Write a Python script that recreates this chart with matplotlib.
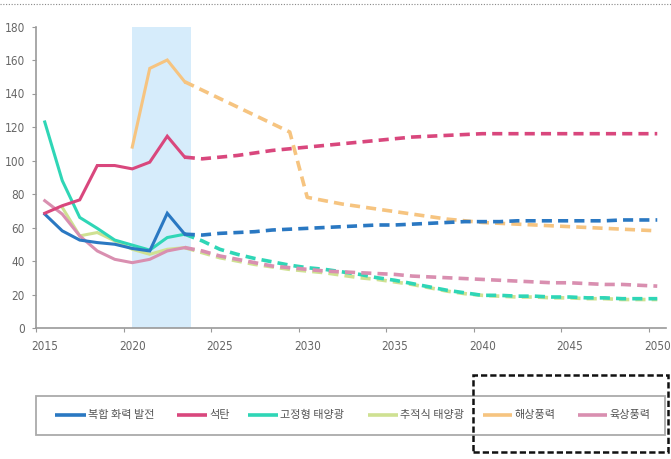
import matplotlib
matplotlib.use("Agg")
import matplotlib.pyplot as plt
from matplotlib.lines import Line2D
from matplotlib.patches import Rectangle
import numpy as np

years = list(range(2015, 2051))

# Solid (historical) part up to 2023, dashed (forecast) from 2023
combined = [68, 58, 52.5, 51, 50, 47.5, 46, 68.5, 56,
            55.5, 56.5, 57, 57.5, 58.5, 59, 59.5, 60, 60.5, 61, 61.5, 61.5,
            62, 62.5, 63, 63.5, 63.5, 63.5, 64, 64, 64, 64, 64, 64, 64.5, 64.5, 64.5]
coal = [68.5, 73, 76.5, 97, 97, 95, 99, 114.5, 102,
        101, 102, 103, 104.5, 106, 107, 108, 109, 110, 111, 112, 113,
        114, 114.5, 115, 115.5, 116, 116, 116, 116, 116, 116, 116, 116, 116, 116, 116]
fixed_solar = [123, 88, 66, 59.5, 52.5, 49.5, 46.5, 54, 56,
               52, 47, 44, 41.5, 39.5, 37.5, 36, 35, 33.5, 32, 30, 28.5,
               26.5, 24.5, 22.5, 21, 19.5, 19.5, 19, 19, 18.5, 18.5, 18, 18, 17.5, 17.5, 17.5]
tracking_solar = [None, 72, 55, 57, 52, 47, 44, 47, 48,
                  45, 42, 40, 38, 36.5, 35, 34, 33, 31.5, 30, 29, 27.5,
                  26, 24, 22, 20.5, 19.5, 19, 18.5, 18.5, 18, 18, 17.5, 17.5, 17, 17, 17]
offshore_wind = [None, None, None, None, None, 108, 155, 160, 147,
                 142, 137, 132, 127, 122, 117, 78, 76, 74, 72.5, 71, 69.5,
                 68, 66.5, 65, 64, 63, 62.5, 62, 61.5, 61, 60.5, 60, 59.5, 59, 58.5, 58]
onshore_wind = [76, 68, 55, 46, 41, 39, 41, 46, 48,
                46, 43, 41, 39, 37, 36, 35, 34, 33.5, 33, 32.5, 32,
                31, 30.5, 30, 29.5, 29, 28.5, 28, 27.5, 27, 27, 26.5, 26, 26, 25.5, 25]

labels = ["복합 화력 발전", "석탄", "고정형 태양광", "추적식 태양광", "해상풍력", "육상풍력"]
colors = ["#2a78c2", "#d9477d", "#2fd6b6", "#cfe192", "#f6c480", "#d98fb0"]
series = [combined, coal, fixed_solar, tracking_solar, offshore_wind, onshore_wind]

split_year = 2023
shade_span = (2020.0, 2023.35)
x_tick_labels = [2015, 2020, 2025, 2030, 2035, 2040, 2045, 2050]
y_ticks = list(range(0, 181, 20))

W, H = 671, 459
fig = plt.figure(figsize=(W / 100, H / 100), dpi=100)
ax = fig.add_axes([36 / W, 1 - 328 / H, 630 / W, 301.5 / H])

ax.axvspan(shade_span[0], shade_span[1], color="#d6ecfb", zorder=0, lw=0)

order = [3, 4, 2, 5, 0, 1]
for i in order:
    vals = np.array([np.nan if v is None else v for v in series[i]], dtype=float)
    yrs = np.array(years, dtype=float)
    m1 = yrs <= split_year
    m2 = yrs >= split_year
    ax.plot(yrs[m1], vals[m1], color=colors[i], lw=2.2, solid_joinstyle="miter", zorder=3)
    ax.plot(yrs[m2], vals[m2], color=colors[i], lw=2.6, linestyle=(0, (2.8, 1.7)),
            dash_capstyle="butt", zorder=3)

ax.set_xlim(2014.5, 2050.5)
ax.set_ylim(0, 180)
ax.set_xticks([2014.5 + 5 * k for k in range(8)])
ax.set_xticklabels([])
ax.set_xticks(x_tick_labels, minor=True)
ax.set_xticklabels([str(v) for v in x_tick_labels], minor=True)
ax.set_yticks(y_ticks)
ax.set_yticklabels([str(v) for v in y_ticks])

for lab in ax.get_yticklabels() + ax.get_xticklabels(minor=True):
    lab.set_fontfamily(["Liberation Sans Narrow", "DejaVu Sans"])
    lab.set_fontstretch("condensed")
    lab.set_fontsize(8.5)
    lab.set_color("#666666")

ax.tick_params(axis="x", which="major", length=3, color="#999999", direction="out")
ax.tick_params(axis="x", which="minor", length=0, pad=9)
ax.tick_params(axis="y", length=3, color="#999999", pad=5)
for s in ["top", "right"]:
    ax.spines[s].set_visible(False)
for s in ["left", "bottom"]:
    ax.spines[s].set_color("#999999")
    ax.spines[s].set_linewidth(1.2)

# legend (drawn manually to match the original item placement)
def fx(px):
    return px / W

def fy(py):
    return 1 - py / H

fig.patches.append(Rectangle((fx(36), fy(435)), fx(665) - fx(36), fy(396) - fy(435),
                             transform=fig.transFigure, fill=False,
                             edgecolor="#aaaaaa", lw=1.3))
handle_px = [(55, 86), (177, 207), (248, 278), (368, 398), (483, 512), (578, 607)]
ly = fy(415)
for (x0, x1), c, lab in zip(handle_px, colors, labels):
    fig.add_artist(Line2D([fx(x0), fx(x1)], [ly, ly], transform=fig.transFigure,
                          color=c, lw=2.6, solid_capstyle="butt"))
    fig.text(fx(x1 + 2), ly, lab, ha="left", va="center", fontsize=8,
             family=["Noto Sans CJK KR", "DejaVu Sans"], color="#555555")

# dashed highlight box
fig.patches.append(Rectangle((fx(473), fy(452)), fx(668) - fx(473), fy(375) - fy(452),
                             transform=fig.transFigure, fill=False,
                             edgecolor="#111111", lw=1.8, linestyle=(0, (2.5, 1.2))))
# top dotted border
fig.add_artist(Line2D([0, 1], [fy(4), fy(4)], transform=fig.transFigure,
                      color="#888888", lw=0.8, linestyle=(0, (1, 1.5))))

fig.savefig("out.png", dpi=100)
